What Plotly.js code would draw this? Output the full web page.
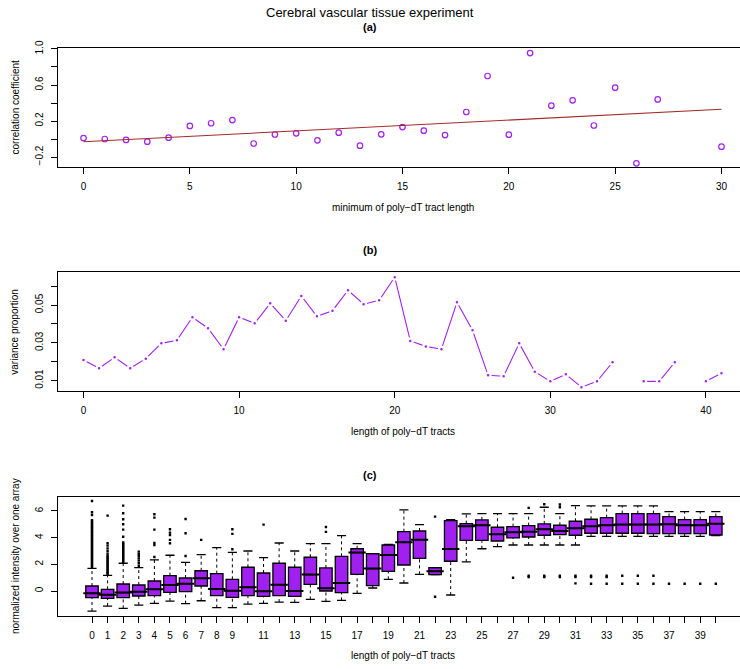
<!DOCTYPE html>
<html>
<head>
<meta charset="utf-8">
<script src="https://cdn.plot.ly/plotly-3.0.1.min.js"></script>
<style>
html,body{margin:0;padding:0;overflow:hidden;background:#fff;}
#chart{width:748px;height:669px;}
</style>
</head>
<body>
<div id="chart"></div>
<script>
// ---------- Panel (a): correlation coefficient ----------
const corrX = [0,1,2,3,4,5,6,7,8,9,10,11,12,13,14,15,16,17,18,19,20,21,22,23,24,25,26,27,30];
const corrY = [0.01,0.00,-0.01,-0.03,0.015,0.145,0.175,0.21,-0.05,0.05,0.063,-0.015,0.07,-0.074,
               0.052,0.133,0.093,0.044,0.30,0.70,0.048,0.955,0.37,0.43,0.15,0.57,-0.27,0.44,-0.085];
const fitIntercept = -0.03;
const fitSlope = 0.012;

// ---------- Panel (b): variance proportion ----------
const varX = [0,1,2,3,4,5,6,7,8,9,10,11,12,13,14,15,16,17,18,19,20,21,22,23,24,25,26,27,28,29,30,31,32,33,34,35,36,37,38,39,40,41];
const varY = [0.0209,0.0165,0.0223,0.0165,0.0216,0.0297,0.0313,0.0435,0.0377,0.0266,
              0.0435,0.0403,0.0509,0.0417,0.0548,0.0440,0.0470,0.0578,0.0504,0.0525,
              0.0647,0.0310,0.0281,0.0266,0.0514,0.0366,0.0128,0.0123,0.0297,0.0147,
              0.0096,0.0133,0.0065,0.0096,0.0197,null,0.0096,0.0096,0.0197,null,
              0.0096,0.0139];

// ---------- Panel (c): boxplots ----------
const boxX = [0,1,2,3,4,5,6,7,8,9,10,11,12,13,14,15,16,17,18,19,20,21,22,23,24,25,26,27,28,29,30,31,32,33,34,35,36,37,38,39,40];
const boxLabels = ["0","1","2","3","4","5","6","7","8","9","","11","","13","","15","","17","","19","","21","","23","","25","","27","","29","","31","","33","","35","","37","","39",""];
const q1  = [-0.5,-0.55,-0.5,-0.375,-0.35,-0.1,-0.05,0.375,-0.35,-0.475,-0.35,-0.4,-0.35,-0.4,0.5,0.0,-0.125,1.25,0.4,1.48,
             1.95,2.45,1.23,2.23,3.8,3.8,3.75,3.98,4.05,4.18,4.23,4.18,4.33,4.33,4.33,4.33,4.3,4.3,4.3,4.3,4.2];
const med = [-0.17,-0.28,-0.12,-0.05,0.125,0.45,0.55,0.95,0.15,0.025,0.275,-0.025,0.475,0.0,1.23,0.2,0.6,2.88,1.68,2.7,
             3.65,3.85,1.48,3.15,4.85,4.93,4.25,4.4,4.45,4.63,4.5,4.7,4.85,4.93,4.98,4.98,4.98,5.0,4.93,4.93,5.05];
const q3  = [0.375,0.125,0.525,0.45,0.75,1.15,0.975,1.52,1.3,0.875,1.78,1.35,2.08,1.78,2.53,1.73,2.6,3.17,2.8,3.45,
             4.45,4.5,1.75,5.28,5.05,5.33,4.78,4.83,4.9,5.03,4.93,5.23,5.38,5.5,5.8,5.8,5.8,5.58,5.35,5.35,5.58];
const whiskLo = [-1.5,-1.13,-1.3,-1.05,-0.93,-0.75,-0.95,-0.73,-1.25,-1.25,-0.975,-0.93,-0.83,-0.85,-0.63,-0.78,-0.7,-0.17,0.225,0.875,
                 0.6,1.25,1.23,-0.3,2.18,3.17,3.33,3.45,3.45,3.45,3.45,3.45,4.1,4.1,4.1,4.1,4.1,4.1,4.1,4.1,4.15];
const whiskHi = [1.70,1.18,2.08,1.75,2.33,2.68,2.15,2.73,3.25,2.9,3.0,2.5,3.6,3.0,3.55,3.55,4.15,3.55,2.8,3.5,
                 6.08,4.98,1.75,5.35,5.78,5.8,5.8,5.8,5.8,6.28,5.8,6.4,6.38,6.38,6.38,6.38,6.38,5.95,5.95,5.95,5.95];
const outliers = [
  [1.8,1.9,2.0,2.1,2.2,2.3,2.4,2.5,2.6,2.7,2.8,2.9,3.0,3.1,3.2,3.3,3.4,3.5,3.6,3.7,3.8,3.9,4.0,4.1,4.2,4.3,4.4,4.5,4.6,4.7,4.8,4.9,5.0,5.1,5.2,5.3,5.7,5.9,6.75],
  [1.25,1.35,1.45,1.55,1.65,1.75,1.85,1.95,2.05,2.15,2.25,2.35,2.45,2.55,2.65,2.8,3.0,3.2,3.4,3.58,5.65],
  [2.15,2.25,2.35,2.45,2.55,2.65,2.75,2.85,2.95,3.05,3.15,3.25,3.35,3.45,3.55,3.65,4.07,4.6,5.0,5.38,5.83,6.4],
  [1.88,2.08,2.28,2.45,2.63,2.78,2.95],
  [2.55,3.45,3.6,4.6,5.5,5.75],
  [3.58,3.83,4.2,4.38,4.63],
  [2.63,4.33,5.4],
  [3.83],
  [],
  [3.13,4.28,4.63],
  [],
  [4.98],
  [],[],[],
  [4.43,4.8],
  [],[],[],[],[],[],
  [-0.43,5.58],
  [],[],[],[],
  [1.0],
  [1.05,1.15,6.23],
  [1.05,1.15,6.5],
  [1.05,1.15,6.28,6.48],
  [0.575,1.05,1.15],
  [0.55,1.05,1.15],
  [0.55,1.05,1.15],
  [0.55,1.15],
  [0.55,1.15],
  [0.55,1.15],
  [0.55],[0.55],[0.55],[0.55]
];

// ---------- styling ----------
const FONT = "Liberation Sans, Arial, Helvetica, sans-serif";
const PURPLE = "#A020F0";
const BROWN = "#A52A2A";
const W = 748, H = 669, ML = 58, MR = 1;
const PW = W - ML - MR;
const px2x = p => (p - ML) / PW;
const px2y = p => 1 - p / H;
const dom = (top, bottom) => [1 - bottom / H, 1 - top / H];

// derived traces
const fitX = [0, 30];
const fitY = fitX.map(x => fitIntercept + fitSlope * x);

const whX = [], whY = [];
const capX = [], capY = [];
boxX.forEach((x, i) => {
  if (whiskHi[i] > q3[i]) { whX.push(x, x, null); whY.push(q3[i], whiskHi[i], null); }
  if (whiskLo[i] < q1[i]) { whX.push(x, x, null); whY.push(whiskLo[i], q1[i], null); }
  capX.push(x, x); capY.push(whiskLo[i], whiskHi[i]);
});
const outX = [], outY = [];
outliers.forEach((arr, i) => arr.forEach(v => { outX.push(boxX[i]); outY.push(v); }));

const traces = [
  {type:'scatter', mode:'markers', x:corrX, y:corrY, xaxis:'x', yaxis:'y',
   marker:{symbol:'circle-open', size:5.5, color:PURPLE, line:{width:1.2, color:PURPLE}}},
  {type:'scatter', mode:'lines', x:fitX, y:fitY, xaxis:'x', yaxis:'y',
   line:{color:BROWN, width:1.1}},
  {type:'scatter', mode:'lines+markers', x:varX, y:varY, xaxis:'x2', yaxis:'y2', connectgaps:false,
   line:{color:PURPLE, width:1.1},
   marker:{size:4.8, color:PURPLE, line:{color:'#ffffff', width:2.3}}},
  {type:'box', x:boxX, q1:q1, median:med, q3:q3, lowerfence:q1, upperfence:q3,
   xaxis:'x3', yaxis:'y3', width:0.8, whiskerwidth:0, boxpoints:false,
   fillcolor:PURPLE, line:{color:'#000', width:1.3}},
  {type:'scatter', mode:'lines', x:whX, y:whY, xaxis:'x3', yaxis:'y3',
   line:{color:'#000', width:1, dash:'3px,3px'}},
  {type:'scatter', mode:'markers', x:capX, y:capY, xaxis:'x3', yaxis:'y3',
   marker:{symbol:'line-ew', size:6.5, color:'#000', line:{color:'#000', width:1.3}}},
  {type:'scatter', mode:'markers', x:boxX, y:med, xaxis:'x3', yaxis:'y3',
   marker:{symbol:'line-ew', size:12.4, color:'#000', line:{color:'#000', width:2}}},
  {type:'scatter', mode:'markers', x:outX, y:outY, xaxis:'x3', yaxis:'y3',
   marker:{symbol:'square', size:2.4, color:'#000', line:{width:0}}}
];

const axCommon = {
  showline:true, mirror:true, linecolor:'#000', linewidth:1,
  ticks:'outside', ticklen:6, tickwidth:1, tickcolor:'#000',
  showgrid:false, zeroline:false, tickfont:{size:10, color:'#000', family:FONT},
  ticklabelstandoff:4, fixedrange:true
};

const layout = {
  width:W, height:H, margin:{l:ML, r:MR, t:0, b:0},
  paper_bgcolor:'#fff', plot_bgcolor:'#fff', showlegend:false,
  font:{family:FONT, size:10, color:'#000'},
  xaxis: Object.assign({}, axCommon, {domain:[0,1], anchor:'y', range:[-1.2,31.2],
    tickmode:'array', tickvals:[0,5,10,15,20,25,30], ticktext:['0','5','10','15','20','25','30']}),
  yaxis: Object.assign({}, axCommon, {domain:dom(48,167), anchor:'x', range:[-0.311,1.011],
    tickmode:'array', tickvals:[-0.2,0,0.2,0.4,0.6,0.8,1.0], ticktext:['\u22120.2','','0.2','','0.6','','1.0'], tickangle:-90}),
  xaxis2: Object.assign({}, axCommon, {domain:[0,1], anchor:'y2', range:[-1.64,42.64],
    tickmode:'array', tickvals:[0,10,20,30,40], ticktext:['0','10','20','30','40']}),
  yaxis2: Object.assign({}, axCommon, {domain:dom(272.3,391), anchor:'x2', range:[0.0045,0.0673],
    tickmode:'array', tickvals:[0.01,0.02,0.03,0.04,0.05,0.06], ticktext:['0.01','','0.03','','0.05',''], tickangle:-90}),
  xaxis3: Object.assign({}, axCommon, {domain:[0,1], anchor:'y3', range:[-2.18,42.0],
    tickmode:'array', tickvals:boxX, ticktext:boxLabels}),
  yaxis3: Object.assign({}, axCommon, {domain:dom(496.7,615.7), anchor:'x3', range:[-1.85,7.07],
    tickmode:'array', tickvals:[0,2,4,6], ticktext:['0','2','4','6'], tickangle:-90}),
  annotations: [
    {text:'Cerebral vascular tissue experiment', x:px2x(370), y:px2y(12), size:13},
    {text:'<b>(a)</b>', x:px2x(370), y:px2y(27), size:11},
    {text:'<b>(b)</b>', x:px2x(370), y:px2y(250), size:11},
    {text:'<b>(c)</b>', x:px2x(370), y:px2y(475), size:11},
    {text:'minimum of poly\u2212dT tract length', x:px2x(403), y:px2y(208), size:10},
    {text:'length of poly\u2212dT tracts', x:px2x(403), y:px2y(431), size:10},
    {text:'length of poly\u2212dT tracts', x:px2x(403), y:px2y(655), size:10},
    {text:'correlation coefficient', x:px2x(15), y:px2y(107.5), size:10, angle:-90},
    {text:'variance proportion', x:px2x(15), y:px2y(331.7), size:10, angle:-90},
    {text:'normalized intensity over one array', x:px2x(15), y:px2y(556), size:10, angle:-90}
  ].map(a => ({text:a.text, x:a.x, y:a.y, xref:'paper', yref:'paper', xanchor:'center', yanchor:'middle',
               showarrow:false, textangle:a.angle || 0, font:{family:FONT, size:a.size, color:'#000'}}))
};

Plotly.newPlot('chart', traces, layout, {displayModeBar:false, staticPlot:true});
</script>
</body>
</html>
